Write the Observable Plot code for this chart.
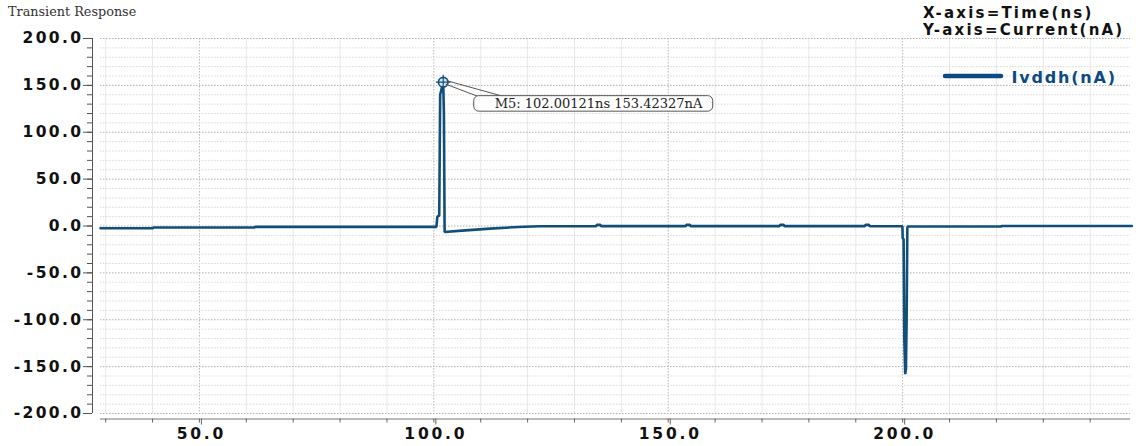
<!DOCTYPE html>
<html>
<head>
<meta charset="utf-8">
<script src="https://cdn.jsdelivr.net/npm/d3@7"></script>
<script src="https://cdn.jsdelivr.net/npm/@observablehq/plot@0.6"></script>
<style>
  html, body { margin: 0; padding: 0; background: #fff; }
  #chart svg { display: block; }
</style>
</head>
<body>
<div id="chart"></div>
<script>
// Transient simulation of the Ivddh supply current (nA) against time (ns)
const timeNs = [
  28.9, 40.1, 40.15, 61.8, 61.85, 100.55, 100.75, 101.15, 101.35, 102.00121,
  102.15, 102.3, 106.0, 112.0, 118.0, 122.5, 134.6, 134.8, 135.5, 135.7,
  153.7, 153.9, 154.6, 154.8, 173.7, 173.9, 174.6, 174.8, 191.9, 192.1,
  192.8, 193.0, 199.95, 200.0, 200.2, 200.35, 200.55, 200.7, 200.85, 201.0,
  201.1, 221.0, 221.1, 248.9
];
const currentNa = [
  -2.4, -2.4, -1.6, -1.6, -0.9, -0.9, 10.0, 11.0, 140.0, 153.42327,
  120.0, -6.4, -4.9, -2.8, -1.0, -0.2, -0.1, 1.2, 1.2, -0.1,
  -0.1, 1.2, 1.2, -0.1, -0.1, 1.2, 1.2, -0.1, -0.1, 1.2,
  1.2, -0.2, -0.3, -13.0, -14.0, -120.0, -158.0, -152.0, -100.0, -2.0,
  -0.5, -0.5, 0.0, 0.0
];

// Marker M5 placed on the peak of the first spike
const markerName = "M5";
const markerTime = 102.00121;
const markerCurrent = 153.42327;

// Axis ticks
const xDomain = [28.9, 248.6];
const xLabelTicks = [50, 100, 150, 200];
const xMinorTicks = d3.range(30, 241, 10);
const yLabelTicks = [200, 150, 100, 50, 0, -50, -100, -150, -200];
const yMinorTicks = d3.range(-200, 201, 10);

const seriesName = "Ivddh(nA)";
const lineColor = "#124f78";
const legendColor = "#0b4a82";

const data = timeNs.map((t, k) => ({ t, i: currentNa[k] }));
const fmt = d => d.toFixed(1);
const axisFont = { fontSize: 15.5, fontWeight: "bold", fontFamily: "DejaVu Sans, Verdana, sans-serif", fill: "#111" };

const chart = Plot.plot({
  width: 1136,
  height: 446,
  marginTop: 38,
  marginBottom: 33,
  marginLeft: 100,
  marginRight: 6,
  style: { background: "#fff", overflow: "visible" },
  x: { domain: xDomain, axis: null, label: null },
  y: { domain: [-200, 200], axis: null, label: null },
  marks: [
    // grid
    Plot.ruleX(xMinorTicks.filter(d => d % 50 !== 0), { stroke: "#e8e8e8" }),
    Plot.ruleX(xLabelTicks, { stroke: "#b8b8b8", strokeDasharray: "1.5,1.5" }),
    Plot.ruleY(yMinorTicks.filter(d => d % 50 !== 0), { stroke: "#d9d9d9", strokeDasharray: "1.5,1.5" }),
    Plot.ruleY(yLabelTicks, { stroke: "#b0b0b0", strokeDasharray: "1.5,1.5" }),

    // y axis, set slightly left of the plotting area
    Plot.ruleX([xDomain[0]], { dx: -8, stroke: "#555" }),
    Plot.axisY(yMinorTicks, { anchor: "left", dx: -8, tickSize: 5, tickFormat: () => "", label: null, stroke: "#555" }),
    Plot.axisY(yLabelTicks, { anchor: "left", dx: -8, tickSize: 9, tickPadding: 0, tickFormat: fmt, label: null, stroke: "#555", ...axisFont }),

    // x axis, set slightly below the plotting area
    Plot.ruleY([-200], { dy: 5.5, stroke: "#777" }),
    Plot.axisX(xMinorTicks, { anchor: "bottom", dy: 5.5, tickSize: 4, tickFormat: () => "", label: null, stroke: "#666" }),
    Plot.axisX(xLabelTicks, { anchor: "bottom", dx: 2, dy: 5.5, tickSize: 6, tickPadding: 3, tickFormat: fmt, label: null, stroke: "#666", ...axisFont }),

    // the current trace
    Plot.line(data, { x: "t", y: "i", stroke: lineColor, strokeWidth: 2.6, strokeLinejoin: "miter" }),

    // marker
    Plot.dot([{ t: markerTime, i: markerCurrent }], { x: "t", y: "i", r: 4.8, stroke: lineColor, fill: "#d6e5ef", strokeWidth: 1.6 }),
    Plot.dot([{ t: markerTime, i: markerCurrent }], { x: "t", y: "i", r: 4.8, symbol: "plus", stroke: lineColor, strokeWidth: 1.2 })
  ]
});

document.getElementById("chart").appendChild(chart);

const svg = d3.select(chart);
svg.selectAll('g[aria-label="y-axis tick label"]').style("letter-spacing", "2.4px");
svg.selectAll('g[aria-label="x-axis tick label"]').style("letter-spacing", "2.8px");

// marker callout
const sx = chart.scale("x"), sy = chart.scale("y");
const px = sx.apply(markerTime), py = sy.apply(markerCurrent);
const callout = svg.append("g");
callout.append("path")
  .attr("d", `M${px + 4},${py - 1}L${px + 58},${py + 14}M${px + 3},${py + 2.5}L${px + 36},${py + 15}`)
  .attr("stroke", "#555").attr("fill", "none").attr("stroke-width", 1);
callout.append("rect")
  .attr("x", px + 31).attr("y", py + 14).attr("width", 239).attr("height", 15.5).attr("rx", 5)
  .attr("fill", "#fff").attr("stroke", "#555").attr("stroke-width", 1);
callout.append("text")
  .attr("x", px + 52).attr("y", py + 26.5).attr("text-anchor", "start")
  .attr("font-family", "DejaVu Serif, serif").attr("font-size", 13).attr("fill", "#222")
  .text(`${markerName}: ${markerTime.toFixed(5)}ns ${markerCurrent.toFixed(5)}nA`);

// title and axis notes
svg.append("text")
  .attr("x", 8).attr("y", 15.5).attr("text-anchor", "start")
  .attr("font-family", "DejaVu Serif, serif").attr("font-size", 12.8).attr("fill", "#333")
  .text("Transient Response");
const notes = svg.append("g").attr("text-anchor", "start")
  .attr("font-family", "DejaVu Sans, Verdana, sans-serif").attr("font-weight", "bold")
  .attr("font-size", 15).attr("fill", "#111").style("letter-spacing", "2.2px");
notes.append("text").attr("x", 923).attr("y", 17.5).text("X-axis=Time(ns)");
notes.append("text").attr("x", 923).attr("y", 34.5).text("Y-axis=Current(nA)");

// legend
const legend = svg.append("g");
legend.append("line")
  .attr("x1", 945).attr("x2", 1001).attr("y1", 76).attr("y2", 76)
  .attr("stroke", legendColor).attr("stroke-width", 4.5).attr("stroke-linecap", "round");
legend.append("text")
  .attr("x", 1011.5).attr("y", 82.5).attr("text-anchor", "start")
  .attr("font-family", "DejaVu Sans, Verdana, sans-serif").attr("font-weight", "bold")
  .attr("font-size", 16).attr("fill", legendColor).style("letter-spacing", "1.8px")
  .text(seriesName);
</script>
</body>
</html>
